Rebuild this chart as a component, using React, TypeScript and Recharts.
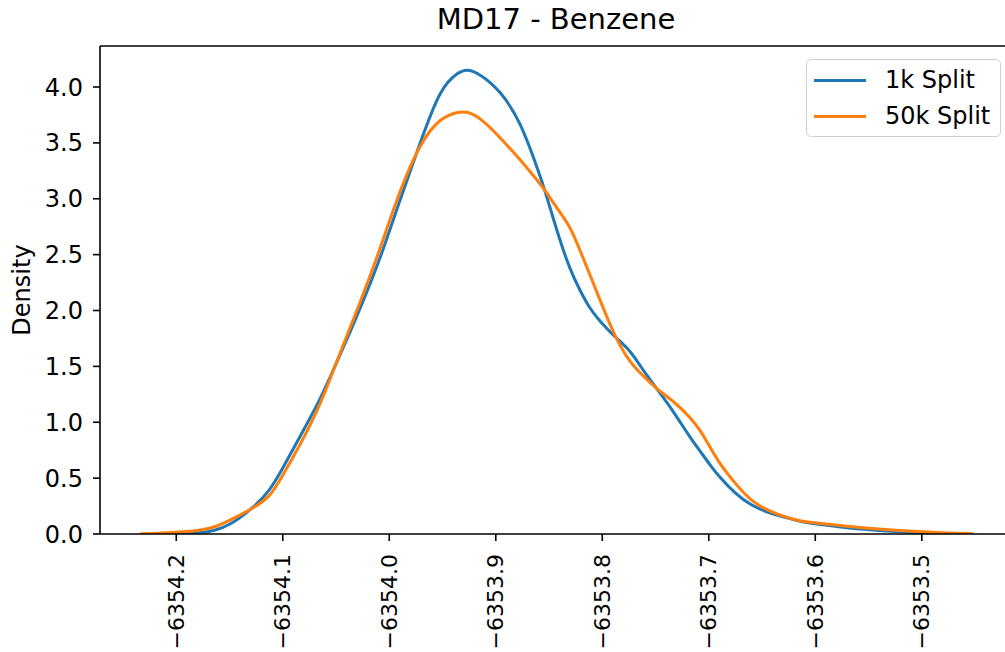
import React from 'react'
import { Legend, Line, LineChart, ReferenceLine, XAxis, YAxis } from 'recharts'

// KDE curves
const energy = [
  -6354.234, -6354.215, -6354.197, -6354.178, -6354.164, -6354.15, -6354.128, -6354.112,
  -6354.101, -6354.084, -6354.065, -6354.052, -6354.037, -6354.023, -6354.009, -6353.99,
  -6353.971, -6353.952, -6353.934, -6353.927, -6353.915, -6353.896, -6353.877, -6353.859,
  -6353.854, -6353.84, -6353.83, -6353.821, -6353.812, -6353.802, -6353.788, -6353.774,
  -6353.76, -6353.748, -6353.732, -6353.718, -6353.708, -6353.699, -6353.69, -6353.675,
  -6353.661, -6353.643, -6353.624, -6353.614, -6353.6, -6353.567, -6353.539, -6353.502,
  -6353.474, -6353.452,
]

const split1k = [
  null, 0.0, 0.003, 0.01, 0.03, 0.075, 0.23, 0.39,
  0.57, 0.87, 1.2, 1.48, 1.8, 2.12, 2.45, 2.99,
  3.5, 4.0, 4.14, 4.16, 4.12, 3.97, 3.7, 3.22,
  3.08, 2.63, 2.36, 2.18, 2.02, 1.9, 1.76, 1.65,
  1.44, 1.29, 1.08, 0.87, 0.74, 0.62, 0.51, 0.36,
  0.26, 0.185, 0.14, 0.11, 0.09, 0.05, 0.03, 0.01,
  0.003, null,
]

const split50k = [
  0.0, 0.008, 0.016, 0.03, 0.06, 0.12, 0.23, 0.33,
  0.51, 0.79, 1.15, 1.48, 1.84, 2.18, 2.54, 3.08,
  3.5, 3.73, 3.78, 3.78, 3.73, 3.55, 3.35, 3.14,
  3.08, 2.88, 2.75, 2.54, 2.33, 2.09, 1.76, 1.53,
  1.4, 1.29, 1.18, 1.05, 0.93, 0.78, 0.63, 0.45,
  0.3, 0.2, 0.14, 0.115, 0.1, 0.065, 0.042, 0.02,
  0.008, 0.003,
]

const xTicks = [-6354.2, -6354.1, -6354.0, -6353.9, -6353.8, -6353.7, -6353.6, -6353.5]
const yTicks = [0, 0.5, 1, 1.5, 2, 2.5, 3, 3.5, 4]
const seriesNames = ['1k Split', '50k Split']
const seriesColors = ['#1f77b4', '#ff7f0e']

const X_MIN = -6354.2716
const X_MAX = -6353.4153
const Y_MAX = 4.367

const font = 'DejaVu Sans, sans-serif'
const fontSize = 24

const data = energy.map((x, i) => ({ x, k1: split1k[i], k50: split50k[i] }))

function fmt(v: number): string {
  const s = Math.abs(v).toFixed(1)
  return v < 0 ? `\u2212${s}` : s
}

function XTick({ x, y, payload }: any) {
  return (
    <text
      x={x}
      y={y}
      transform={`rotate(-90, ${x}, ${y})`}
      textAnchor="end"
      dy="0.35em"
      fontSize={22}
      fontFamily={font}
      fill="#000"
    >
      {fmt(payload.value)}
    </text>
  )
}

function LegendBox() {
  return (
    <div
      style={{
        boxSizing: 'border-box',
        width: 195,
        height: 78,
        border: '1.5px solid #d0d0d0',
        borderRadius: 5,
        background: 'rgba(255,255,255,0.85)',
        padding: '2px 0 2px 7px',
        fontFamily: font,
        fontSize,
        color: '#000',
      }}
    >
      {seriesNames.map((name, i) => (
        <div key={name} style={{ display: 'flex', alignItems: 'center', height: 36 }}>
          <span style={{ display: 'inline-block', width: 52, height: 3, background: seriesColors[i], marginRight: 19 }} />
          <span>{name}</span>
        </div>
      ))}
    </div>
  )
}

export default function App() {
  return (
    <div style={{ position: 'fixed', left: 0, top: 0, width: 1005, height: 652, overflow: 'hidden', background: '#fff' }}>
      <div
        style={{
          position: 'absolute',
          left: 100,
          top: 5,
          width: 912,
          textAlign: 'center',
          fontFamily: font,
          fontSize: 29,
          lineHeight: '29px',
          color: '#000',
        }}
      >
        MD17 - Benzene
      </div>
      <LineChart width={1020} height={652} data={data} margin={{ top: 46, right: 8, bottom: 0, left: 0 }}>
        <XAxis
          dataKey="x"
          type="number"
          domain={[X_MIN, X_MAX]}
          ticks={xTicks}
          allowDataOverflow
          height={118}
          tickSize={7}
          tickMargin={13}
          tick={<XTick />}
          stroke="#000"
          axisLine={{ stroke: '#000', strokeWidth: 1.6 }}
          tickLine={{ stroke: '#000', strokeWidth: 1.6 }}
        />
        <YAxis
          type="number"
          domain={[0, Y_MAX]}
          ticks={yTicks}
          allowDataOverflow
          width={100}
          tickSize={7}
          tickMargin={10}
          tickFormatter={fmt}
          tick={{ fill: '#000', fontSize, fontFamily: font }}
          axisLine={{ stroke: '#000', strokeWidth: 1.6 }}
          tickLine={{ stroke: '#000', strokeWidth: 1.6 }}
          label={{
            content: () => (
              <text
                x={30}
                y={290}
                transform="rotate(-90, 30, 290)"
                textAnchor="middle"
                fontSize={fontSize}
                fontFamily={font}
                fill="#000"
              >
                Density
              </text>
            ),
          }}
        />
        <ReferenceLine y={Y_MAX} stroke="#000" strokeWidth={1.6} />
        <ReferenceLine x={X_MAX} stroke="#000" strokeWidth={1.6} />
        <Legend
          layout="horizontal"
          verticalAlign="middle"
          align="center"
          content={() => <LegendBox />}
          wrapperStyle={{ position: 'absolute', left: 806, top: 59, width: 'auto', height: 'auto' }}
        />
        <Line
          type="basis"
          dataKey="k1"
          name={seriesNames[0]}
          stroke={seriesColors[0]}
          strokeWidth={3}
          dot={false}
          isAnimationActive={false}
        />
        <Line
          type="basis"
          dataKey="k50"
          name={seriesNames[1]}
          stroke={seriesColors[1]}
          strokeWidth={3}
          dot={false}
          isAnimationActive={false}
        />
      </LineChart>
    </div>
  )
}
